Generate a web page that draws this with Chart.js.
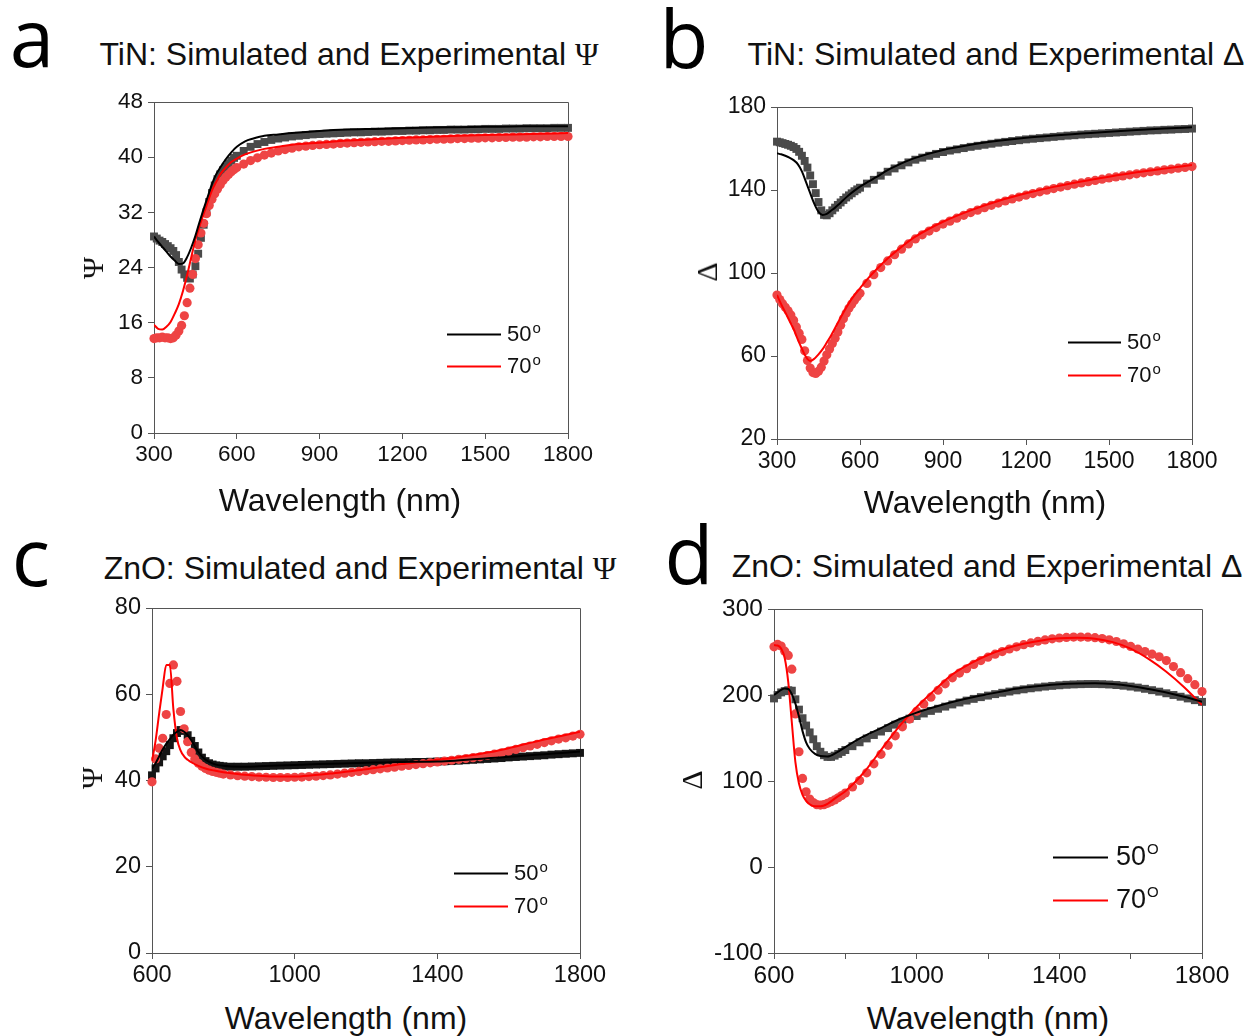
<!DOCTYPE html>
<html>
<head>
<meta charset="utf-8">
<title>TiN / ZnO ellipsometry</title>
<script src="https://cdn.jsdelivr.net/npm/chart.js@4.4.1/dist/chart.umd.min.js"></script>
<style>
  body { margin: 0; background: #fff; }
  #page { position: relative; width: 1251px; height: 1036px; overflow: hidden;
          font-family: "Liberation Sans", Arial, sans-serif; color: #111; }
  canvas { position: absolute; }
  .t { position: absolute; white-space: nowrap; line-height: 1; transform: translate(-50%, -50%); }
  .letter { font-family: "Open Sans", sans-serif; font-size: 80px; color: #000; }
  .title, .xlab { font-size: 32px; }
  .ylab { font-family: "Liberation Serif", serif; font-size: 30px; transform: translate(-50%, -50%) rotate(-90deg); }
  .greek { font-family: "Liberation Serif", serif; }
</style>
</head>
<body>
<div id="page">
  <canvas id="chartA" width="560" height="408" style="left:60px; top:82px;"></canvas>
  <canvas id="chartB" width="560" height="403" style="left:690px; top:87px;"></canvas>
  <canvas id="chartC" width="560" height="407" style="left:60px; top:588px;"></canvas>
  <canvas id="chartD" width="571" height="406" style="left:680px; top:589px;"></canvas>

  <div class="t letter" style="left:32px; top:36px;">a</div>
  <div class="t letter" style="left:684px; top:37px;">b</div>
  <div class="t letter" style="left:31px; top:555px;">c</div>
  <div class="t letter" style="left:689px; top:553px;">d</div>

  <div class="t title" style="left:349px; top:54px;">TiN: Simulated and Experimental <span class="greek">&Psi;</span></div>
  <div class="t title" style="left:996px; top:54px;">TiN: Simulated and Experimental &Delta;</div>
  <div class="t title" style="left:360px; top:568px;">ZnO: Simulated and Experimental <span class="greek">&Psi;</span></div>
  <div class="t title" style="left:987px; top:566px;">ZnO: Simulated and Experimental &Delta;</div>

  <div class="t xlab" style="left:340px; top:500px;">Wavelength (nm)</div>
  <div class="t xlab" style="left:985px; top:502px;">Wavelength (nm)</div>
  <div class="t xlab" style="left:346px; top:1018px;">Wavelength (nm)</div>
  <div class="t xlab" style="left:988px; top:1018px;">Wavelength (nm)</div>

  <div class="t ylab" style="left:93px; top:268px;">&Psi;</div>
  <div class="t ylab" style="left:707px; top:272px;">&Delta;</div>
  <div class="t ylab" style="left:92px; top:778px;">&Psi;</div>
  <div class="t ylab" style="left:692px; top:780px;">&Delta;</div>
</div>

<script>
// ---- TiN: wavelengths (nm) ----
const tinSimWl = [300, 315, 330, 345, 360, 375, 390, 405, 420, 435, 450, 465, 480, 495, 510, 525, 540,
  560, 580, 600, 630, 660, 700, 750, 800, 900, 1000, 1100, 1200, 1300, 1400, 1500, 1600, 1700, 1800];
const tinExpWl = [300, 310, 320, 330, 340, 350, 360, 370, 380, 390,
  400, 410, 420, 430, 440, 450, 460, 470, 480, 490,
  500, 510, 520, 530, 540, 550, 560, 570, 580, 590,
  600, 625, 650, 675, 700, 725, 750, 775, 800, 825,
  850, 875, 900, 925, 950, 975, 1000, 1025, 1050, 1075,
  1100, 1125, 1150, 1175, 1200, 1225, 1250, 1275, 1300, 1325,
  1350, 1375, 1400, 1425, 1450, 1475, 1500, 1525, 1550, 1575,
  1600, 1625, 1650, 1675, 1700, 1725, 1750, 1775, 1800];

// TiN Psi (deg)
const tinPsiSim50 = [28.5, 27.7, 27.0, 26.3, 25.6, 25.0, 24.5, 24.6, 25.5, 26.9, 28.6, 30.6, 32.5, 34.3, 36.1, 37.5, 38.5,
  39.7, 40.7, 41.5, 42.3, 42.7, 43.1, 43.3, 43.5, 43.8, 44.0, 44.1, 44.2, 44.3, 44.35, 44.4, 44.45, 44.5, 44.5];
const tinPsiSim70 = [15.7, 15.1, 15.0, 15.4, 16.1, 17.3, 18.7, 20.6, 22.9, 25.5, 28.0, 30.0, 31.8, 33.5, 35.2, 36.4, 37.5,
  38.5, 39.3, 39.8, 40.4, 40.8, 41.2, 41.5, 41.8, 42.1, 42.4, 42.6, 42.8, 42.95, 43.1, 43.2, 43.3, 43.4, 43.5];
const tinPsiExp50 = [28.5, 28.2, 27.9, 27.7, 27.4, 27.1, 26.8, 26.4, 25.8, 24.8,
  23.7, 23.0, 22.5, 22.4, 23.0, 24.2, 26.0, 28.3, 30.2, 32.0,
  33.5, 34.8, 35.9, 36.8, 37.5, 38.1, 38.6, 39.1, 39.5, 39.9,
  40.2, 40.9, 41.5, 41.9, 42.2, 42.5, 42.7, 42.85, 43.0, 43.1,
  43.2, 43.3, 43.35, 43.4, 43.45, 43.5, 43.55, 43.6, 43.6, 43.65,
  43.7, 43.7, 43.75, 43.8, 43.8, 43.85, 43.85, 43.9, 43.9, 43.95,
  43.95, 44.0, 44.0, 44.0, 44.05, 44.05, 44.1, 44.1, 44.1, 44.15,
  44.15, 44.15, 44.2, 44.2, 44.2, 44.2, 44.25, 44.25, 44.25];
const tinPsiExp70 = [13.7, 13.8, 13.8, 13.9, 13.8, 13.8, 13.7, 13.8, 14.2, 14.8,
  15.6, 17.0, 18.9, 21.0, 23.0, 25.3, 27.3, 29.0, 30.4, 31.8,
  33.0, 33.9, 34.7, 35.4, 36.0, 36.6, 37.1, 37.5, 37.9, 38.2,
  38.5, 39.0, 39.5, 39.9, 40.3, 40.6, 40.9, 41.1, 41.3, 41.5,
  41.6, 41.7, 41.8, 41.85, 41.9, 42.0, 42.05, 42.1, 42.15, 42.2,
  42.25, 42.3, 42.3, 42.35, 42.4, 42.45, 42.5, 42.5, 42.55, 42.6,
  42.6, 42.65, 42.7, 42.7, 42.75, 42.75, 42.8, 42.8, 42.85, 42.85,
  42.9, 42.9, 42.9, 42.95, 42.95, 43.0, 43.0, 43.0, 43.0];

// TiN Delta (deg)
const tinDelSim50 = [157.7, 157.2, 156.5, 155.6, 154.4, 152.5, 149.0, 143.8, 138.5, 133.3, 129.5, 128.0, 128.5, 130.0, 131.5, 133.3, 135.2,
  137.6, 139.7, 141.6, 144.0, 146.3, 149.6, 152.8, 155.5, 159.3, 161.8, 163.7, 165.2, 166.3, 167.2, 168.1, 168.9, 169.6, 170.2];
const tinDelSim70 = [89.4, 85.0, 81.0, 77.0, 73.0, 68.0, 63.5, 59.5, 57.6, 58.7, 60.8, 63.3, 66.5, 69.8, 73.5, 77.3, 81.0,
  85.5, 89.3, 92.6, 97.5, 101.8, 107.0, 112.6, 117.5, 124.7, 130.2, 134.7, 138.4, 141.5, 144.1, 146.4, 148.5, 150.3, 152.0];
const tinDelExp50 = [163.3, 163.0, 162.6, 162.2, 161.8, 161.3, 160.7, 159.8, 158.4, 156.5,
  154.0, 150.8, 147.0, 142.8, 138.5, 134.2, 130.2, 128.0, 127.8, 128.8,
  130.2, 131.5, 132.8, 134.0, 135.2, 136.4, 137.4, 138.4, 139.4, 140.3,
  141.1, 143.1, 144.9, 146.9, 148.8, 150.4, 151.9, 153.3, 154.6, 155.6,
  156.5, 157.4, 158.3, 159.0, 159.6, 160.2, 160.8, 161.3, 161.8, 162.3,
  162.8, 163.2, 163.6, 164.0, 164.4, 164.7, 165.0, 165.3, 165.6, 165.9,
  166.2, 166.4, 166.7, 166.9, 167.1, 167.3, 167.5, 167.7, 167.9, 168.1,
  168.3, 168.5, 168.7, 168.8, 169.0, 169.1, 169.3, 169.4, 169.6];
const tinDelExp70 = [89.4, 87.2, 85.2, 83.5, 81.8, 79.8, 77.2, 74.0, 71.0, 68.0,
  62.5, 57.8, 54.2, 52.0, 51.6, 52.6, 54.6, 57.6, 60.6, 63.4,
  66.0, 68.6, 71.6, 74.8, 78.0, 80.6, 83.0, 85.0, 86.9, 88.6,
  90.2, 95.0, 99.2, 102.6, 105.8, 108.8, 111.5, 114.0, 116.4, 118.4,
  120.2, 121.9, 123.6, 125.0, 126.4, 127.8, 129.1, 130.3, 131.5, 132.6,
  133.7, 134.7, 135.7, 136.6, 137.5, 138.3, 139.1, 139.9, 140.7, 141.4,
  142.1, 142.8, 143.4, 144.0, 144.6, 145.2, 145.8, 146.3, 146.8, 147.3,
  147.8, 148.3, 148.8, 149.2, 149.7, 150.1, 150.5, 150.9, 151.3];

// ---- ZnO: wavelengths (nm) ----
const znoSimWl = [600, 610, 620, 630, 640, 650, 660, 670, 680, 690, 700, 715, 730, 750, 775, 800,
  850, 900, 950, 1000, 1050, 1100, 1150, 1200, 1250, 1300, 1350, 1400, 1450, 1500, 1550, 1600, 1650, 1700, 1750, 1800];
const znoExpWl = [600, 610, 620, 630, 640, 650, 660, 670, 680, 690,
  700, 710, 720, 730, 740, 750, 760, 770, 780, 790,
  800, 820, 840, 860, 880, 900, 920, 940, 960, 980,
  1000, 1020, 1040, 1060, 1080, 1100, 1120, 1140, 1160, 1180,
  1200, 1220, 1240, 1260, 1280, 1300, 1320, 1340, 1360, 1380,
  1400, 1420, 1440, 1460, 1480, 1500, 1520, 1540, 1560, 1580,
  1600, 1620, 1640, 1660, 1680, 1700, 1720, 1740, 1760, 1780,
  1800];

// ZnO Psi (deg)
const znoPsiSim50 = [42.8, 44.0, 45.6, 47.2, 48.5, 49.6, 50.6, 51.3, 51.7, 51.3, 50.5, 48.7, 46.6, 44.8, 43.8, 43.4,
  43.2, 43.3, 43.45, 43.6, 43.75, 43.9, 44.0, 44.1, 44.2, 44.3, 44.35, 44.4, 44.6, 44.9, 45.2, 45.5, 45.8, 46.1, 46.4, 46.7];
const znoPsiSim70 = [44.5, 49.2, 55.5, 61.5, 66.8, 66.8, 56.5, 49.8, 47.0, 45.6, 44.8, 44.0, 43.4, 42.8, 42.3, 41.9,
  41.4, 41.1, 40.9, 40.9, 41.2, 41.6, 42.1, 42.6, 43.2, 43.8, 44.3, 44.8, 45.3, 45.9, 46.6, 47.5, 48.5, 49.5, 50.4, 51.3];
const znoPsiExp50 = [41.2, 42.8, 44.2, 45.6, 46.8, 48.2, 49.8, 51.0, 51.7, 51.5,
  50.5, 49.2, 48.0, 46.5, 45.3, 44.5, 44.0, 43.7, 43.5, 43.4,
  43.3, 43.2, 43.2, 43.2, 43.25, 43.3, 43.35, 43.4, 43.45, 43.5,
  43.55, 43.6, 43.65, 43.7, 43.75, 43.8, 43.85, 43.9, 43.95, 44.0,
  44.0, 44.05, 44.1, 44.15, 44.2, 44.2, 44.25, 44.3, 44.3, 44.35,
  44.4, 44.45, 44.5, 44.6, 44.7, 44.8, 44.9, 45.0, 45.1, 45.2,
  45.35, 45.45, 45.55, 45.65, 45.75, 45.85, 46.0, 46.1, 46.2, 46.3,
  46.4];
const znoPsiExp70 = [39.7, 45.0, 47.5, 49.8, 55.3, 62.5, 66.8, 63.0, 56.0, 52.0,
  49.0, 46.5, 45.0, 44.0, 43.3, 42.8, 42.4, 42.1, 41.9, 41.7,
  41.5, 41.3, 41.1, 41.0, 40.9, 40.8, 40.75, 40.7, 40.7, 40.7,
  40.75, 40.8, 40.9, 41.0, 41.15, 41.3, 41.5, 41.7, 41.9, 42.1,
  42.3, 42.5, 42.7, 42.9, 43.1, 43.3, 43.5, 43.7, 43.9, 44.1,
  44.3, 44.5, 44.7, 44.9, 45.1, 45.3, 45.5, 45.8, 46.1, 46.4,
  46.8, 47.2, 47.6, 48.0, 48.4, 48.8, 49.2, 49.6, 49.9, 50.3,
  50.7];

// ZnO Delta (deg)
const znoDelSim50 = [200, 203, 206, 207.5, 207, 201, 190, 175, 158, 145, 137.5, 131.5, 129, 128.5, 133, 139.5,
  151.5, 161.5, 171.5, 179.5, 186, 191.8, 196.8, 201, 205, 208.6, 210.8, 212.5, 213.4, 213.6, 212.8, 210.5, 207, 203, 198, 192.2];
const znoDelSim70 = [258, 257.5, 254, 243, 215, 168, 122, 97, 84, 77, 73, 70.5, 70.5, 73.5, 81, 88,
  109, 136, 163, 186, 205.5, 224, 236.5, 246.5, 254, 259.5, 263.5, 265.9, 266.5, 265.5, 261.5, 254, 242, 227, 209, 188.4];
const znoDelExp50 = [196, 200, 203, 204.5, 205.5, 205, 195, 183, 173, 164.5,
  156.5, 148.5, 140.5, 134, 130, 128, 128, 129.5, 131.5, 133.8,
  136, 140.5, 145, 149.5, 153.5, 157.5, 161.5, 165.5, 169, 172.5,
  175.5, 178.5, 181.5, 184, 186.5, 189, 191.3, 193.5, 195.5, 197.5,
  199.3, 201, 202.6, 204, 205.4, 206.6, 207.8, 208.8, 209.8, 210.6,
  211.3, 211.9, 212.3, 212.6, 212.8, 212.8, 212.6, 212.2, 211.6, 210.8,
  209.8, 208.6, 207.2, 205.6, 203.9, 202.0, 200.0, 198.0, 196.0, 194.0,
  192.0];
const znoDelExp70 = [256, 259, 257, 251, 246, 230, 178, 134, 103, 87.5,
  79, 75, 72.5, 72, 72.5, 74, 76, 78, 80.5, 83,
  86, 93, 100.5, 109.5, 120, 131, 141.5, 152.5, 163, 172,
  181, 189.5, 197.5, 205.5, 213, 220, 225.5, 230.5, 235.5, 240,
  244, 247.5, 250.5, 253.5, 256, 258.5, 260.5, 262.5, 264, 265.3,
  266.3, 267, 267.3, 267.3, 267.2, 266.7, 265.6, 264.2, 262.2, 259.5,
  256.5, 253.5, 250.5, 247.5, 244.5, 240, 233, 226, 219, 212,
  204];

// ---- axis ticks ----
const tinWlTicks = [300, 600, 900, 1200, 1500, 1800];
const znoWlTicksC = [600, 1000, 1400, 1800];
const znoWlTicksD = [600, 800, 1000, 1200, 1400, 1600, 1800];
const znoWlLabels = [600, 1000, 1400, 1800];
const tinPsiTicks = [0, 8, 16, 24, 32, 40, 48];
const tinDelTicks = [20, 60, 100, 140, 180];
const znoPsiTicks = [0, 20, 40, 60, 80];
const znoDelTicks = [-100, 0, 100, 200, 300];

const angleLabels = ['50', '70'];

const tickFamily = '"Liberation Sans", Arial, sans-serif';
const axisColor = '#555';

const pts = (xs, ys) => xs.map((x, i) => ({ x: x, y: ys[i] }));

// box around the plot area (left/bottom come from the scales)
const framePlugin = {
    id: 'frame',
    beforeDatasetsDraw(chart) {
        const { ctx, chartArea: a } = chart;
        ctx.save();
        ctx.strokeStyle = axisColor;
        ctx.lineWidth = 1;
        ctx.beginPath();
        ctx.moveTo(Math.round(a.left) + 0.5, Math.round(a.top) + 0.5);
        ctx.lineTo(Math.round(a.right) + 0.5, Math.round(a.top) + 0.5);
        ctx.lineTo(Math.round(a.right) + 0.5, Math.round(a.bottom) + 0.5);
        ctx.stroke();
        ctx.restore();
    }
};

// legend for the simulated curves, placed inside the plot area
const angleKeyPlugin = {
    id: 'angleKey',
    afterDraw(chart, args, o) {
        const { ctx, chartArea: a } = chart;
        o.rows.forEach((row, i) => {
            const ds = chart.data.datasets[i];
            const y = Math.round(a.bottom - row) + 0.5;
            ctx.save();
            ctx.strokeStyle = ds.borderColor;
            ctx.lineWidth = 2;
            ctx.beginPath();
            ctx.moveTo(a.right - o.x0, y);
            ctx.lineTo(a.right - o.x1, y);
            ctx.stroke();
            ctx.fillStyle = '#111';
            ctx.font = o.size + 'px ' + tickFamily;
            ctx.textBaseline = 'middle';
            const tx = a.right - o.x1 + o.gap;
            ctx.fillText(ds.label, tx, y);
            const w = ctx.measureText(ds.label).width;
            ctx.font = o.supSize + 'px ' + tickFamily;
            ctx.textBaseline = 'alphabetic';
            ctx.fillText(o.sup, tx + w + 1, y + o.supDy);
            ctx.restore();
        });
    }
};

function buildPanel(id, p) {
    const datasets = [
        { label: angleLabels[0], data: pts(p.simWl, p.sim50), showLine: true, borderColor: '#000000',
          borderWidth: 2, pointRadius: 0, cubicInterpolationMode: 'monotone', order: 0 },
        { label: angleLabels[1], data: pts(p.simWl, p.sim70), showLine: true, borderColor: '#ff0000',
          borderWidth: 2, pointRadius: 0, cubicInterpolationMode: 'monotone', order: 1 },
        { label: 'exp70', data: pts(p.expWl, p.exp70), showLine: false, pointStyle: 'circle', pointRadius: 4.6,
          pointBackgroundColor: '#ee4444', pointBorderWidth: 0, clip: 6, order: 2 },
        { label: 'exp50', data: pts(p.expWl, p.exp50), showLine: false, pointStyle: 'rect', pointRadius: 5.6,
          pointBackgroundColor: p.squareColor, pointBorderWidth: 0, clip: 6, order: 3 }
    ];

    const tickOpts = (labels) => ({
        autoSkip: false,
        maxRotation: 0,
        color: '#111',
        font: { family: tickFamily, size: p.tickSize, lineHeight: 1 },
        callback: (v) => labels.includes(v) ? String(v) : ''
    });

    return new Chart(document.getElementById(id), {
        type: 'scatter',
        data: { datasets: datasets },
        options: {
            responsive: false,
            animation: false,
            events: [],
            layout: { padding: { left: 0, top: p.area.top, right: p.area.right, bottom: 0 } },
            plugins: {
                legend: { display: false },
                tooltip: { enabled: false },
                angleKey: p.key
            },
            scales: {
                x: {
                    type: 'linear', min: p.xTicks[0], max: p.xTicks[p.xTicks.length - 1],
                    afterBuildTicks: (s) => { s.ticks = p.xTicks.map(v => ({ value: v })); },
                    afterFit: (s) => { s.height = p.area.bottom; },
                    ticks: Object.assign(tickOpts(p.xLabels), { padding: 5 }),
                    grid: { drawOnChartArea: false, drawTicks: true, tickLength: 6, color: axisColor },
                    border: { display: true, color: axisColor }
                },
                y: {
                    type: 'linear', min: p.yTicks[0], max: p.yTicks[p.yTicks.length - 1],
                    afterBuildTicks: (s) => { s.ticks = p.yTicks.map(v => ({ value: v })); },
                    afterFit: (s) => { s.width = p.area.left; },
                    ticks: Object.assign(tickOpts(p.yTicks), { padding: 5 }),
                    grid: { drawOnChartArea: false, drawTicks: true, tickLength: 6, color: axisColor },
                    border: { display: true, color: axisColor }
                }
            }
        },
        plugins: [framePlugin, angleKeyPlugin]
    });
}

const keySmall = { size: 22, gap: 6, sup: 'o', supSize: 15, supDy: -2 };

buildPanel('chartA', {
    simWl: tinSimWl, sim50: tinPsiSim50, sim70: tinPsiSim70,
    expWl: tinExpWl, exp50: tinPsiExp50, exp70: tinPsiExp70,
    squareColor: '#4a4a4a',
    xTicks: tinWlTicks, xLabels: tinWlTicks, yTicks: tinPsiTicks,
    tickSize: 22.5,
    area: { left: 94, top: 20, right: 52, bottom: 57 },
    key: Object.assign({ x0: 121, x1: 67, rows: [99, 67] }, keySmall)
});

buildPanel('chartB', {
    simWl: tinSimWl, sim50: tinDelSim50, sim70: tinDelSim70,
    expWl: tinExpWl, exp50: tinDelExp50, exp70: tinDelExp70,
    squareColor: '#4a4a4a',
    xTicks: tinWlTicks, xLabels: tinWlTicks, yTicks: tinDelTicks,
    tickSize: 23,
    area: { left: 87, top: 20, right: 58, bottom: 51 },
    key: Object.assign({ x0: 124, x1: 71, rows: [97, 64] }, keySmall)
});

buildPanel('chartC', {
    simWl: znoSimWl, sim50: znoPsiSim50, sim70: znoPsiSim70,
    expWl: znoExpWl, exp50: znoPsiExp50, exp70: znoPsiExp70,
    squareColor: '#151515',
    xTicks: znoWlTicksC, xLabels: znoWlLabels, yTicks: znoPsiTicks,
    tickSize: 23.5,
    area: { left: 92, top: 20, right: 40, bottom: 42 },
    key: Object.assign({ x0: 126, x1: 72, rows: [80, 47] }, keySmall)
});

buildPanel('chartD', {
    simWl: znoSimWl, sim50: znoDelSim50, sim70: znoDelSim70,
    expWl: znoExpWl, exp50: znoDelExp50, exp70: znoDelExp70,
    squareColor: '#4a4a4a',
    xTicks: znoWlTicksD, xLabels: znoWlLabels, yTicks: znoDelTicks,
    tickSize: 24.5,
    area: { left: 94, top: 20, right: 49, bottom: 42 },
    key: { x0: 149, x1: 94, rows: [96, 53], size: 27, gap: 8, sup: 'O', supSize: 15, supDy: -4 }
});
</script>
</body>
</html>
